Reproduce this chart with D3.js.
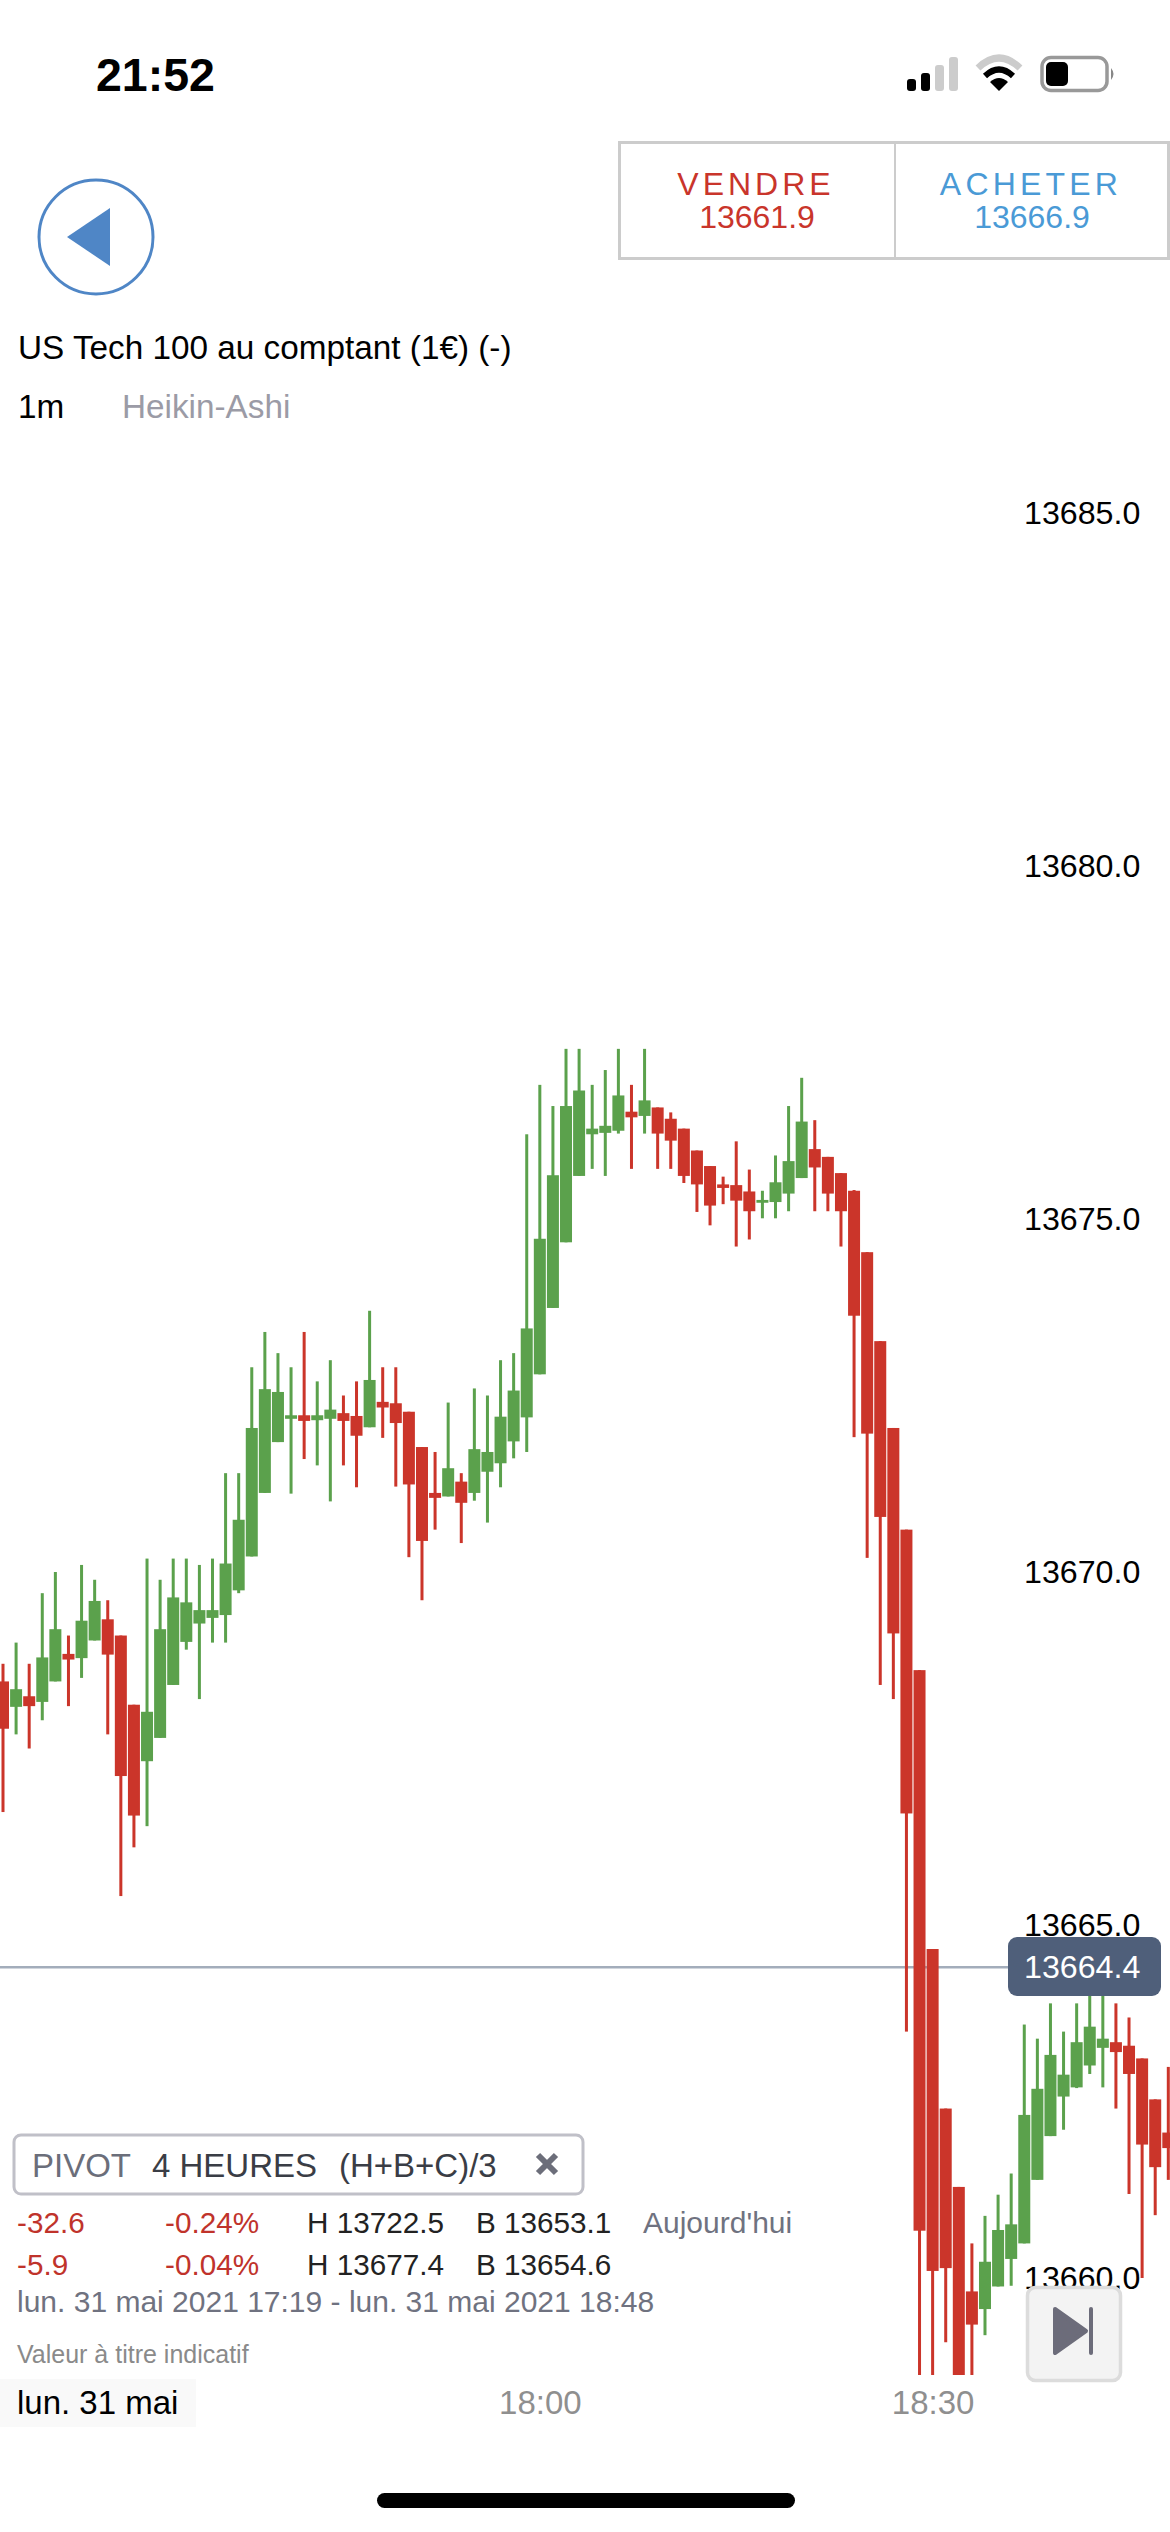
<!DOCTYPE html>
<html lang="fr">
<head>
<meta charset="utf-8">
<title>US Tech 100 au comptant</title>
<script src="https://cdn.jsdelivr.net/npm/d3@7"></script>
<style>
  html, body { margin: 0; padding: 0; background: #fff; }
  svg { display: block; }
  text { font-family: "Liberation Sans", Arial, sans-serif; }
</style>
</head>
<body>
<svg id="chart" width="1170" height="2532"></svg>
<script>
// one candle per minute, 17:19 to 18:48 (Heikin-Ashi)
var opens = [
  13668.45, 13668.09, 13668.24, 13668.16, 13668.45, 13668.84, 13668.78, 13669.03, 13669.33, 13669.10,
  13668.12, 13667.32, 13667.65, 13668.40, 13669.01, 13669.27, 13669.35, 13669.39, 13669.74, 13670.22,
  13671.12, 13671.84, 13672.17, 13672.22, 13672.15, 13672.17, 13672.25, 13672.21, 13672.05, 13672.41,
  13672.39, 13672.27, 13671.77, 13671.12, 13671.07, 13671.28, 13671.12, 13671.42, 13671.54, 13671.85,
  13672.19, 13672.80, 13673.74, 13674.67, 13675.61, 13676.20, 13676.22, 13676.25, 13676.52, 13676.46,
  13676.58, 13676.42, 13676.28, 13675.97, 13675.75, 13675.49, 13675.48, 13675.39, 13675.23, 13675.24,
  13675.36, 13675.58, 13675.99, 13675.88, 13675.65, 13675.40, 13674.53, 13673.27, 13672.04, 13670.60,
  13668.61, 13664.66, 13662.40, 13661.29, 13659.81, 13659.56, 13659.88, 13660.27, 13660.49, 13661.39,
  13662.01, 13662.57, 13662.70, 13663.01, 13663.26, 13663.34, 13663.29, 13663.11, 13662.53, 13662.06
];
var closes = [
  13667.78, 13668.34, 13668.10, 13668.79, 13669.19, 13668.76, 13669.31, 13669.59, 13668.83, 13667.11,
  13666.55, 13668.02, 13669.19, 13669.64, 13669.57, 13669.46, 13669.46, 13670.12, 13670.74, 13672.04,
  13672.59, 13672.55, 13672.22, 13672.14, 13672.22, 13672.30, 13672.14, 13671.93, 13672.72, 13672.33,
  13672.11, 13671.24, 13670.44, 13671.05, 13671.47, 13670.98, 13671.74, 13671.70, 13672.20, 13672.57,
  13673.45, 13674.72, 13675.62, 13676.60, 13676.82, 13676.28, 13676.32, 13676.75, 13676.44, 13676.68,
  13676.21, 13676.11, 13675.61, 13675.49, 13675.19, 13675.44, 13675.26, 13675.11, 13675.27, 13675.52,
  13675.82, 13676.38, 13675.73, 13675.36, 13675.11, 13673.63, 13671.96, 13670.78, 13669.13, 13666.58,
  13660.67, 13660.10, 13660.14, 13658.20, 13659.34, 13660.23, 13660.68, 13660.76, 13662.31, 13662.68,
  13663.16, 13662.88, 13663.34, 13663.56, 13663.39, 13663.20, 13662.89, 13661.89, 13661.57, 13661.84
];
var highs = [
  13668.70, 13669.00, 13668.70, 13669.70, 13670.00, 13669.10, 13670.10, 13669.89, 13669.60, 13669.10,
  13668.12, 13670.19, 13669.89, 13670.19, 13670.19, 13670.10, 13670.19, 13671.40, 13671.40, 13672.90,
  13673.40, 13673.10, 13672.90, 13673.40, 13672.70, 13673.00, 13672.50, 13672.70, 13673.70, 13672.90,
  13672.90, 13672.27, 13671.77, 13671.70, 13672.40, 13671.40, 13672.60, 13672.50, 13673.00, 13673.10,
  13676.20, 13676.90, 13676.60, 13677.41, 13677.41, 13676.90, 13677.11, 13677.41, 13676.90, 13677.41,
  13676.58, 13676.51, 13676.28, 13675.97, 13675.75, 13675.60, 13676.10, 13675.70, 13675.40, 13675.90,
  13676.60, 13677.00, 13676.40, 13675.88, 13675.65, 13675.41, 13674.53, 13673.27, 13672.04, 13670.60,
  13668.61, 13664.66, 13662.40, 13661.29, 13660.49, 13660.88, 13661.18, 13661.48, 13663.59, 13663.39,
  13663.89, 13663.49, 13663.89, 13664.60, 13664.50, 13663.89, 13663.69, 13663.11, 13662.53, 13662.99
];
var lows = [
  13666.60, 13667.70, 13667.50, 13667.90, 13668.45, 13668.10, 13668.50, 13669.03, 13667.70, 13665.41,
  13666.10, 13666.40, 13667.65, 13668.40, 13668.90, 13668.20, 13669.00, 13669.00, 13669.70, 13670.22,
  13671.12, 13671.84, 13671.11, 13671.60, 13671.51, 13671.00, 13671.51, 13671.20, 13672.05, 13671.90,
  13671.21, 13670.21, 13669.60, 13670.60, 13671.07, 13670.41, 13671.01, 13670.70, 13671.20, 13671.61,
  13671.70, 13672.80, 13673.74, 13674.67, 13675.61, 13675.71, 13675.61, 13676.21, 13675.71, 13676.21,
  13675.71, 13675.71, 13675.51, 13675.10, 13674.91, 13675.21, 13674.61, 13674.71, 13675.01, 13675.01,
  13675.11, 13675.58, 13675.11, 13675.11, 13674.61, 13671.91, 13670.20, 13668.40, 13668.20, 13663.49,
  13656.00, 13656.50, 13659.09, 13654.60, 13657.00, 13659.19, 13659.88, 13659.89, 13660.49, 13661.39,
  13662.01, 13662.10, 13662.69, 13662.89, 13662.70, 13662.40, 13661.19, 13660.00, 13660.89, 13661.39
];
var priceTicks = [13685, 13680, 13675, 13670, 13665, 13660];
var timeTicks = [new Date(2021, 4, 31, 18, 0), new Date(2021, 4, 31, 18, 30)];
var lastPrice = 13664.4;

var startTime = new Date(2021, 4, 31, 17, 19);
var endTime = new Date(2021, 4, 31, 18, 48);

var GREEN = '#5ba14c', RED = '#cb352a';
var CHART_BOTTOM = 2375;

var svg = d3.select('#chart');

var x = d3.scaleTime().domain([startTime, endTime]).range([3, 1168.3]);
var y = d3.scaleLinear().domain([13660, 13685]).range([2278, 513]);

var candles = opens.map(function(o, i) {
  return { time: d3.timeMinute.offset(startTime, i), open: o, close: closes[i], high: highs[i], low: lows[i] };
});

function label(sel, px, py, txt, size, color, opts) {
  opts = opts || {};
  return sel.append('text')
    .attr('x', px).attr('y', py)
    .attr('font-size', size)
    .attr('fill', color)
    .attr('font-weight', opts.weight || null)
    .attr('letter-spacing', opts.spacing || null)
    .attr('text-anchor', opts.anchor || 'start')
    .text(txt);
}

// status bar
var statusBar = svg.append('g');
label(statusBar, 96, 91, '21:52', 46.5, '#000', { weight: 700 });
var bars = [[907, 79, '#000'], [921, 73, '#000'], [935, 65, '#ccc'], [949, 57, '#ccc']];
statusBar.selectAll('rect.sig').data(bars).enter().append('rect')
  .attr('class', 'sig')
  .attr('x', function(d) { return d[0]; }).attr('y', function(d) { return d[1]; })
  .attr('width', 9).attr('height', function(d) { return 91 - d[1]; })
  .attr('rx', 3).attr('fill', function(d) { return d[2]; });
statusBar.append('path').attr('d', 'M 978 68 Q 999 48 1020 68').attr('fill', 'none').attr('stroke', '#ccc').attr('stroke-width', 7);
statusBar.append('path').attr('d', 'M 985 76 Q 999 63 1013 76').attr('fill', 'none').attr('stroke', '#000').attr('stroke-width', 6);
statusBar.append('path').attr('d', 'M 990 82 Q 999 74 1008 82 L 999 91 Z').attr('fill', '#000');
statusBar.append('rect').attr('x', 1042).attr('y', 57.5).attr('width', 65).attr('height', 33).attr('rx', 9)
  .attr('fill', '#fff').attr('stroke', '#999').attr('stroke-width', 3.5);
statusBar.append('rect').attr('x', 1046).attr('y', 62).attr('width', 22).attr('height', 24).attr('rx', 5).attr('fill', '#000');
statusBar.append('path').attr('d', 'M 1111 68 Q 1116 74 1111 80 Z').attr('fill', '#888');

// back button
svg.append('circle').attr('cx', 96).attr('cy', 237).attr('r', 57)
  .attr('fill', '#fff').attr('stroke', '#4f86c6').attr('stroke-width', 3);
svg.append('path').attr('d', 'M 67 237 L 110 208 L 110 266 Z').attr('fill', '#4f86c6');

// sell / buy box
svg.append('rect').attr('x', 619.5).attr('y', 142.5).attr('width', 549).attr('height', 116)
  .attr('fill', '#fff').attr('stroke', '#ccc').attr('stroke-width', 3);
svg.append('line').attr('x1', 895).attr('x2', 895).attr('y1', 142).attr('y2', 258)
  .attr('stroke', '#ccc').attr('stroke-width', 2);
label(svg, 756, 195, 'VENDRE', 32, '#c9352b', { anchor: 'middle', spacing: 4 });
label(svg, 757, 228, '13661.9', 32, '#c9352b', { anchor: 'middle' });
label(svg, 1031, 195, 'ACHETER', 32, '#4a9ad6', { anchor: 'middle', spacing: 4.2 });
label(svg, 1032, 228, '13666.9', 32, '#4a9ad6', { anchor: 'middle' });

// instrument header
label(svg, 18, 359, 'US Tech 100 au comptant (1€) (-)', 33.3, '#000');
label(svg, 18, 418, '1m', 33.3, '#000');
label(svg, 122, 418, 'Heikin-Ashi', 33.3, '#9b9ba6');

// price axis
var yAxis = d3.axisRight(y).tickValues(priceTicks).tickSize(0).tickPadding(0)
  .tickFormat(d3.format('.1f'));
var yG = svg.append('g').attr('transform', 'translate(1024,0)').call(yAxis);
yG.select('.domain').remove();
yG.selectAll('text').attr('font-size', 32.2).attr('fill', '#000')
  .style('font-family', '"Liberation Sans", Arial, sans-serif');

// last price line
svg.append('line').attr('x1', 0).attr('x2', 1008).attr('y1', y(lastPrice)).attr('y2', y(lastPrice))
  .attr('stroke', '#a3adbb').attr('stroke-width', 2.5);

// candles
svg.append('clipPath').attr('id', 'plot').append('rect')
  .attr('x', 0).attr('y', 400).attr('width', 1170).attr('height', CHART_BOTTOM - 400);
var plot = svg.append('g').attr('clip-path', 'url(#plot)');
function candleColor(d) { return d.close >= d.open ? GREEN : RED; }
var candle = plot.selectAll('g.candle').data(candles).enter().append('g').attr('class', 'candle');
candle.append('rect')
  .attr('x', function(d) { return x(d.time) - 1.5; })
  .attr('y', function(d) { return y(d.high); })
  .attr('width', 3)
  .attr('height', function(d) { return y(d.low) - y(d.high); })
  .attr('fill', candleColor);
candle.append('rect')
  .attr('x', function(d) { return x(d.time) - 6; })
  .attr('y', function(d) { return y(Math.max(d.open, d.close)); })
  .attr('width', 12)
  .attr('height', function(d) { return Math.abs(y(d.open) - y(d.close)); })
  .attr('fill', candleColor);

// last price tag
svg.append('rect').attr('x', 1008).attr('y', 1937).attr('width', 153).attr('height', 59).attr('rx', 9)
  .attr('fill', '#4f5f7a');
label(svg, 1024, y(lastPrice) + 11, d3.format('.1f')(lastPrice), 32.2, '#fff');

// pivot box
svg.append('rect').attr('x', 14).attr('y', 2135).attr('width', 569).attr('height', 59).attr('rx', 7)
  .attr('fill', '#fff').attr('stroke', '#c0c0c8').attr('stroke-width', 3);
label(svg, 32, 2177, 'PIVOT', 33, '#6b6e7a');
label(svg, 152, 2177, '4 HEURES', 33, '#3a3d45');
label(svg, 339, 2177, '(H+B+C)/3', 33, '#3a3d45');
svg.append('path').attr('d', 'M 538 2155 L 556 2173 M 556 2155 L 538 2173')
  .attr('stroke', '#6c6e7a').attr('stroke-width', 6);

// day range lines
var infoRows = [
  ['-32.6', '-0.24%', 'H 13722.5', 'B 13653.1', 2233],
  ['-5.9', '-0.04%', 'H 13677.4', 'B 13654.6', 2275]
];
infoRows.forEach(function(r) {
  label(svg, 17, r[4], r[0], 29.7, '#c0332b');
  label(svg, 165, r[4], r[1], 29.7, '#c0332b');
  label(svg, 307, r[4], r[2], 29.7, '#222');
  label(svg, 476, r[4], r[3], 29.7, '#222');
});
label(svg, 643, 2233, "Aujourd'hui", 30, '#6f7280');
label(svg, 17, 2312, 'lun. 31 mai 2021 17:19 - lun. 31 mai 2021 18:48', 30, '#6f7280');
label(svg, 17, 2363, 'Valeur à titre indicatif', 25, '#8a8a8a');

// time axis
svg.append('rect').attr('x', 0).attr('y', 2379).attr('width', 196).attr('height', 48).attr('fill', '#f9f9f9');
label(svg, 17, 2414, 'lun. 31 mai', 33, '#000');
var xAxis = d3.axisBottom(x).tickValues(timeTicks).tickSize(0).tickPadding(0)
  .tickFormat(d3.timeFormat('%H:%M'));
var xG = svg.append('g').attr('transform', 'translate(0,2391)').call(xAxis);
xG.select('.domain').remove();
xG.selectAll('text').attr('font-size', 33).attr('fill', '#8f8f8f')
  .style('font-family', '"Liberation Sans", Arial, sans-serif');

// jump to latest button
svg.append('rect').attr('x', 1027.5).attr('y', 2287.5).attr('width', 93).attr('height', 93).attr('rx', 8)
  .attr('fill', '#f3f3f3').attr('stroke', '#dcdcdc').attr('stroke-width', 3.5);
svg.append('path').attr('d', 'M 1055 2309 L 1086 2331 L 1055 2353 Z')
  .attr('fill', '#6c6c7a').attr('stroke', '#6c6c7a').attr('stroke-width', 4).attr('stroke-linejoin', 'round');
svg.append('rect').attr('x', 1089).attr('y', 2307).attr('width', 4).attr('height', 48).attr('rx', 2).attr('fill', '#6c6c7a');

// home indicator
svg.append('rect').attr('x', 377).attr('y', 2493).attr('width', 418).attr('height', 15).attr('rx', 7.5).attr('fill', '#000');
</script>
</body>
</html>
